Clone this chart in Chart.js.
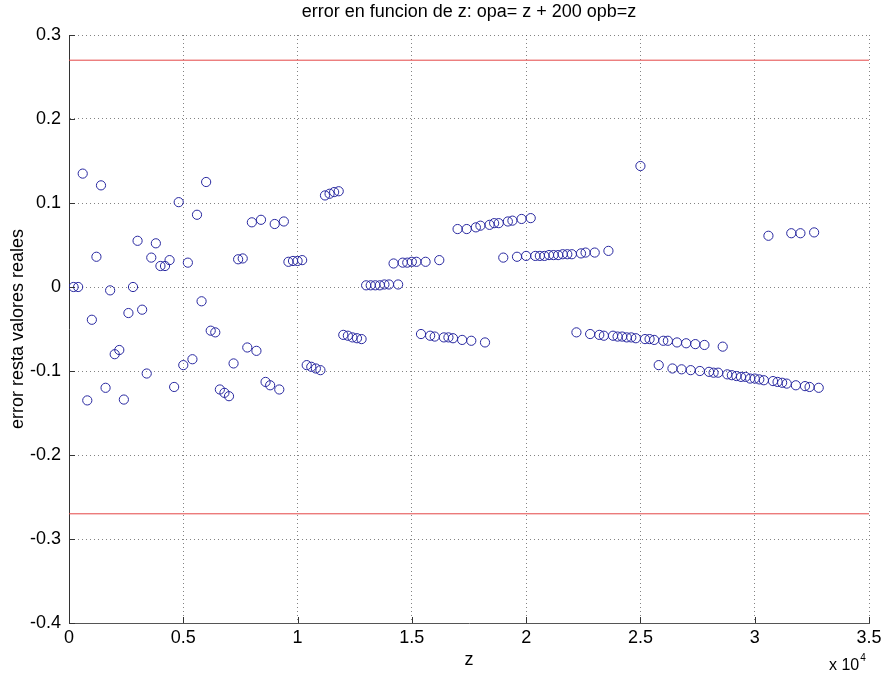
<!DOCTYPE html>
<html>
<head>
<meta charset="utf-8">
<script src="https://cdn.jsdelivr.net/npm/chart.js@4.4.1/dist/chart.umd.min.js"></script>
<style>
  html, body { margin: 0; padding: 0; background: #ffffff; }
  #wrap { width: 888px; height: 679px; }
</style>
</head>
<body>
<div id="wrap"><canvas id="c" width="888" height="679"></canvas></div>
<script>
// ---- data ----
const zValues = [
  200, 400, 600, 800, 1000, 1200, 1400, 1600, 1800, 2000,
  2200, 2400, 2600, 2800, 3000, 3200, 3400, 3600, 3800, 4000,
  4200, 4400, 4600, 4800, 5000, 5200, 5400, 5600, 5800, 6000,
  6200, 6400, 6600, 6800, 7000, 7200, 7400, 7600, 7800, 8000,
  8200, 8400, 8600, 8800, 9000, 9200, 9400, 9600, 9800, 10000,
  10200, 10400, 10600, 10800, 11000, 11200, 11400, 11600, 11800, 12000,
  12200, 12400, 12600, 12800, 13000, 13200, 13400, 13600, 13800, 14000,
  14200, 14400, 14600, 14800, 15000, 15200, 15400, 15600, 15800, 16000,
  16200, 16400, 16600, 16800, 17000, 17200, 17400, 17600, 17800, 18000,
  18200, 18400, 18600, 18800, 19000, 19200, 19400, 19600, 19800, 20000,
  20200, 20400, 20600, 20800, 21000, 21200, 21400, 21600, 21800, 22000,
  22200, 22400, 22600, 22800, 23000, 23200, 23400, 23600, 23800, 24000,
  24200, 24400, 24600, 24800, 25000, 25200, 25400, 25600, 25800, 26000,
  26200, 26400, 26600, 26800, 27000, 27200, 27400, 27600, 27800, 28000,
  28200, 28400, 28600, 28800, 29000, 29200, 29400, 29600, 29800, 30000,
  30200, 30400, 30600, 30800, 31000, 31200, 31400, 31600, 31800, 32000,
  32200, 32400, 32600, 32800
];
const errorValues = [
  0.000, 0.000, 0.135, -0.135, -0.039, 0.036, 0.121, -0.120, -0.004, -0.080,
  -0.075, -0.134, -0.031, 0.000, 0.055, -0.027, -0.103, 0.035, 0.052, 0.025,
  0.025, 0.032, -0.119, 0.101, -0.093, 0.029, -0.086, 0.086, -0.017, 0.125,
  -0.052, -0.054, -0.122, -0.126, -0.130, -0.091, 0.033, 0.034, -0.072, 0.077,
  -0.076, 0.080, -0.113, -0.117, 0.075, -0.122, 0.078, 0.030, 0.031, 0.031,
  0.032, -0.093, -0.095, -0.097, -0.099, 0.109, 0.111, 0.113, 0.114, -0.057,
  -0.058, -0.060, -0.061, -0.062, 0.002, 0.002, 0.002, 0.002, 0.003, 0.003,
  0.028, 0.003, 0.029, 0.029, 0.030, 0.030, -0.056, 0.030, -0.058, -0.059,
  0.032, -0.060, -0.060, -0.061, 0.069, -0.063, 0.069, -0.064, 0.071, 0.073,
  -0.066, 0.074, 0.076, 0.076, 0.035, 0.078, 0.079, 0.036, 0.081, 0.037,
  0.082, 0.037, 0.037, 0.037, 0.038, 0.038, 0.038, 0.039, 0.039, 0.039,
  -0.054, 0.040, 0.041, -0.056, 0.041, -0.057, -0.058, 0.043, -0.058, -0.059,
  -0.059, -0.060, -0.060, -0.061, 0.144, -0.062, -0.062, -0.063, -0.093, -0.064,
  -0.064, -0.097, -0.066, -0.098, -0.067, -0.099, -0.068, -0.100, -0.069, -0.101,
  -0.102, -0.102, -0.071, -0.104, -0.105, -0.106, -0.107, -0.107, -0.109, -0.109,
  -0.110, -0.111, 0.061, -0.112, -0.113, -0.114, -0.115, 0.064, -0.117, 0.064,
  -0.118, -0.119, 0.065, -0.120
];
const limitLevels = [0.27, -0.27];
const xRange = [0, 35000];
const yRange = [-0.4, 0.3];
const titleText = 'error en funcion de z: opa= z + 200 opb=z';
const xLabel = 'z';
const yLabel = 'error resta valores reales';

// ---- build datasets ----
const FONT = "'Liberation Sans', Arial, Helvetica, sans-serif";
const points = zValues.map((z, i) => ({ x: z, y: errorValues[i] }));
const limitSets = limitLevels.map(v => ({
  type: 'line',
  data: xRange.map(x => ({ x: x, y: v })),
  borderColor: 'rgb(228,70,70)',
  borderWidth: 1,
  pointRadius: 0,
  fill: false,
  order: 2
}));

const inwardTicks = {
  id: 'inwardTicks',
  afterDraw(chart) {
    const { ctx, chartArea, scales } = chart;
    const xs = scales.x, ys = scales.y;
    ctx.save();
    ctx.strokeStyle = '#333';
    ctx.lineWidth = 1;
    ctx.beginPath();
    xs.ticks.forEach(t => {
      const px = Math.round(xs.getPixelForValue(t.value)) + 0.5;
      ctx.moveTo(px, chartArea.bottom);
      ctx.lineTo(px, chartArea.bottom - 6);
    });
    ys.ticks.forEach(t => {
      const py = Math.round(ys.getPixelForValue(t.value)) + 0.5;
      ctx.moveTo(chartArea.left, py);
      ctx.lineTo(chartArea.left + 6, py);
    });
    ctx.stroke();
    // exponent label of the x axis
    ctx.fillStyle = '#000';
    ctx.textBaseline = 'alphabetic';
    ctx.textAlign = 'left';
    ctx.font = '16px ' + FONT;
    const base = 'x 10';
    const bx = chartArea.right - 40;
    const by = chartArea.bottom + 47;
    ctx.fillText(base, bx, by);
    const w = ctx.measureText(base).width;
    ctx.font = '10px ' + FONT;
    ctx.fillText('4', bx + w + 1, by - 9);
    ctx.restore();
  }
};

new Chart(document.getElementById('c'), {
  type: 'scatter',
  data: {
    datasets: [
      {
        type: 'scatter',
        data: points,
        pointStyle: 'circle',
        pointRadius: 4.6,
        pointHoverRadius: 4.6,
        pointBorderWidth: 1,
        pointBackgroundColor: 'rgba(0,0,0,0)',
        pointBorderColor: 'rgb(40,40,160)',
        showLine: false,
        order: 1
      },
      ...limitSets
    ]
  },
  options: {
    responsive: false,
    animation: false,
    devicePixelRatio: 1,
    layout: { padding: { left: 7, right: 19, top: 0, bottom: 8 } },
    plugins: {
      legend: { display: false },
      tooltip: { enabled: false },
      title: {
        display: true,
        text: titleText,
        fullSize: false,
        color: '#000',
        font: { family: FONT, size: 18, weight: 'normal', lineHeight: 1.2 },
        padding: { top: 1, bottom: 12.4 }
      }
    },
    scales: {
      x: {
        type: 'linear',
        min: xRange[0],
        max: xRange[1],
        afterFit: s => { s.height = 48; },
        ticks: {
          stepSize: 5000,
          color: '#000',
          padding: 4,
          maxRotation: 0,
          font: { family: FONT, size: 18 },
          callback: v => String(Math.round(v / 1000) / 10)
        },
        grid: { color: 'rgba(90,90,90,0.75)', lineWidth: 1, drawTicks: false },
        border: { display: true, color: '#555', width: 1, dash: [1, 3] },
        title: {
          display: true,
          text: xLabel,
          color: '#000',
          font: { family: FONT, size: 18, lineHeight: 1.2 },
          padding: 0
        }
      },
      y: {
        type: 'linear',
        min: yRange[0],
        max: yRange[1],
        afterFit: s => { s.width = 62; },
        ticks: {
          stepSize: 0.1,
          color: '#000',
          padding: 8,
          font: { family: FONT, size: 18 },
          callback: v => String(Math.round(v * 10) / 10)
        },
        grid: { color: 'rgba(90,90,90,0.75)', lineWidth: 1, drawTicks: false },
        border: { display: true, color: '#333', width: 1, dash: [1, 3] },
        title: {
          display: true,
          text: yLabel,
          color: '#000',
          font: { family: FONT, size: 18, lineHeight: 1.2 },
          padding: 0
        }
      }
    }
  },
  plugins: [inwardTicks]
});
</script>
</body>
</html>
